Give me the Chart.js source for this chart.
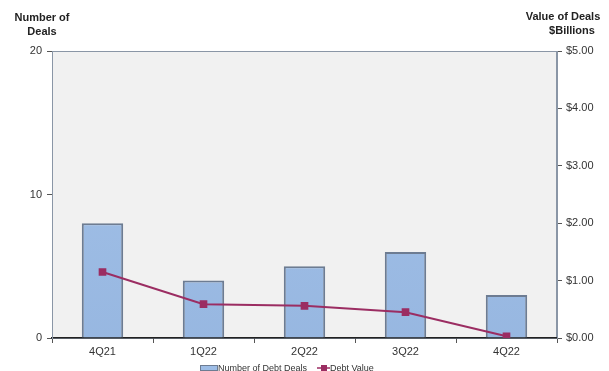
<!DOCTYPE html>
<html>
<head>
<meta charset="utf-8">
<script src="https://cdn.jsdelivr.net/npm/chart.js@4"></script>
<style>
  body { margin: 0; background: #fff; }
  #wrap { width: 609px; height: 371px; position: relative; }
</style>
</head>
<body>
<div id="wrap"><canvas id="chart"></canvas></div>
<script>
  const quarters = ['4Q21', '1Q22', '2Q22', '3Q22', '4Q22'];
  const dealCounts = [8, 4, 5, 6, 3];
  const debtValues = [1.15, 0.59, 0.56, 0.45, 0.03];
  const countTicks = [0, 10, 20];

  const FONT = 'Arial, "Liberation Sans", sans-serif';

  // grey plot background with a thin frame, corner titles and a small legend
  const frame = {
    id: 'frame',
    beforeDraw(chart) {
      const { ctx, chartArea: a } = chart;
      ctx.save();
      ctx.fillStyle = '#f1f1f1';
      ctx.fillRect(a.left, a.top, a.right - a.left, a.bottom - a.top);
      ctx.strokeStyle = '#8a96a6';
      ctx.lineWidth = 1;
      ctx.strokeRect(a.left + 0.5, a.top + 0.5, a.right - a.left - 1, a.bottom - a.top);
      ctx.restore();
    },
    afterDraw(chart) {
      const { ctx } = chart;
      ctx.save();
      ctx.fillStyle = '#222';
      ctx.font = 'bold 11px ' + FONT;
      ctx.textAlign = 'center';
      ctx.fillText('Number of', 42, 21);
      ctx.fillText('Deals', 42, 35);
      ctx.fillText('Value of Deals', 563, 20);
      ctx.fillText('$Billions', 572, 34);

      // legend
      const bars = chart.data.datasets[0];
      const line = chart.data.datasets[1];
      const y = 368;
      ctx.font = '9px ' + FONT;
      ctx.textAlign = 'left';
      ctx.textBaseline = 'middle';
      ctx.fillStyle = '#9dbde6';
      ctx.fillRect(200, y - 3, 18, 6);
      ctx.strokeStyle = '#6d7c92';
      ctx.lineWidth = 1;
      ctx.strokeRect(200.5, y - 2.5, 17, 5);
      ctx.fillStyle = '#333';
      ctx.fillText(bars.label, 218, y + 1);
      ctx.strokeStyle = line.borderColor;
      ctx.lineWidth = 1.5;
      ctx.beginPath();
      ctx.moveTo(317, y);
      ctx.lineTo(330, y);
      ctx.stroke();
      ctx.fillStyle = line.borderColor;
      ctx.fillRect(321, y - 3, 6, 6);
      ctx.fillStyle = '#333';
      ctx.fillText(line.label, 330, y + 1);
      ctx.restore();
    }
  };

  const ctx = document.getElementById('chart').getContext('2d');
  const g = ctx.createLinearGradient(0, 0, 0, 371);
  g.addColorStop(0, '#a6c4ea');
  g.addColorStop(1, '#96b6e0');

  new Chart(ctx, {
    data: {
      labels: quarters,
      datasets: [
        {
          type: 'bar',
          label: 'Number of Debt Deals',
          data: dealCounts,
          yAxisID: 'y',
          backgroundColor: g,
          borderColor: '#6d7c92',
          borderWidth: 2,
          barPercentage: 0.41,
          categoryPercentage: 1,
          order: 1
        },
        {
          type: 'line',
          label: 'Debt Value',
          data: debtValues,
          yAxisID: 'y2',
          borderColor: '#9b2d62',
          backgroundColor: '#9b2d62',
          borderWidth: 2,
          pointStyle: 'rect',
          pointRadius: 4,
          pointHoverRadius: 4,
          order: 0
        }
      ]
    },
    plugins: [frame],
    options: {
      responsive: true,
      maintainAspectRatio: false,
      animation: false,
      layout: { padding: { top: 51, left: 0, right: 0, bottom: 0 } },
      plugins: {
        legend: { display: false },
        tooltip: { enabled: false }
      },
      scales: {
        x: {
          afterFit(axis) { axis.height = 33; },
          grid: { display: true, drawOnChartArea: false, offset: true, color: '#555', tickLength: 5 },
          border: { color: '#222', width: 1.5 },
          ticks: { color: '#333', font: { size: 11, family: FONT }, padding: 2 }
        },
        y: {
          position: 'left',
          min: 0,
          max: 20,
          afterFit(axis) { axis.width = 52; },
          afterBuildTicks(axis) { axis.ticks = countTicks.map(v => ({ value: v })); },
          grid: { drawOnChartArea: false, color: '#555', tickLength: 5 },
          border: { color: '#8a96a6' },
          ticks: { color: '#333', font: { size: 11, family: FONT }, padding: 5 }
        },
        y2: {
          position: 'right',
          min: 0,
          max: 5,
          afterFit(axis) { axis.width = 52; },
          grid: { drawOnChartArea: false, color: '#555', tickLength: 5 },
          border: { color: '#8a96a6' },
          ticks: {
            stepSize: 1,
            color: '#333',
            font: { size: 11, family: FONT },
            padding: 4,
            callback: v => '$' + v.toFixed(2)
          }
        }
      }
    }
  });
</script>
</body>
</html>
